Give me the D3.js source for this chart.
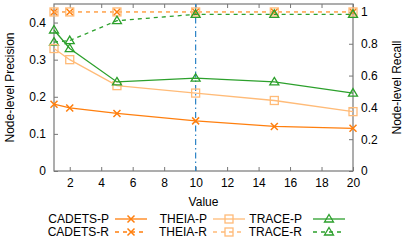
<!DOCTYPE html>
<html>
<head>
<meta charset="utf-8">
<script src="https://cdn.jsdelivr.net/npm/d3@7"></script>
<style>
  body { margin: 0; background: #fff; }
  text { font-family: "Liberation Sans", Arial, sans-serif; font-size: 12px; fill: #000; }
</style>
</head>
<body>
<div id="chart"></div>
<script>
// data
const xValues = [1, 2, 5, 10, 15, 20];
const cadetsP = [0.18, 0.17, 0.155, 0.135, 0.12, 0.115];
const theiaP = [0.33, 0.30, 0.23, 0.21, 0.19, 0.16];
const traceP = [0.38, 0.33, 0.24, 0.25, 0.24, 0.21];
const cadetsR = [1, 1, 1, 1, 1, 1];
const theiaR = [1, 1, 1, 1, 1, 1];
const traceR = [0.81, 0.82, 0.945, 0.985, 0.985, 0.985];
const xTicks = [2, 4, 6, 8, 10, 12, 14, 16, 18, 20];
const pTicks = [0, 0.1, 0.2, 0.3, 0.4];
const rTicks = [0, 0.2, 0.4, 0.6, 0.8, 1];
const markLine = 10;

const W = 407, H = 240;
const margin = { top: 4, right: 54, bottom: 69, left: 54 };
const gw = W - margin.left - margin.right;
const gh = H - margin.top - margin.bottom;

const svg = d3.select('#chart').append('svg')
  .attr('width', W).attr('height', H);
const g = svg.append('g')
  .attr('transform', `translate(${margin.left}, ${margin.top})`);

const x = d3.scaleLinear().domain([1, 20]).range([0, gw]);
const yP = d3.scaleLinear().domain([0, 0.45]).range([gh, 0]);
const yR = d3.scaleLinear().domain([0, 1.05]).range([gh, 0]);

const axisColor = '#777';

// axes with inward ticks
const styleAxis = sel => {
  sel.select('.domain').remove();
  sel.selectAll('.tick line').attr('stroke', axisColor);
};
g.append('g').attr('transform', `translate(0, ${gh})`)
  .call(d3.axisTop(x).tickValues(xTicks).tickSize(4).tickFormat(''))
  .call(styleAxis);
g.append('g')
  .call(d3.axisBottom(x).tickValues(xTicks).tickSize(4).tickFormat(''))
  .call(styleAxis);
g.append('g').attr('transform', `translate(0, ${gh})`)
  .call(d3.axisBottom(x).tickValues(xTicks).tickSize(0).tickPadding(7))
  .call(sel => { sel.select('.domain').remove(); });
g.append('g')
  .call(d3.axisRight(yP).tickValues(pTicks).tickSize(4).tickFormat(''))
  .call(styleAxis);
g.append('g')
  .call(d3.axisLeft(yP).tickValues(pTicks).tickSize(0).tickPadding(8).tickFormat(d3.format('')))
  .call(sel => { sel.select('.domain').remove(); });
g.append('g').attr('transform', `translate(${gw}, 0)`)
  .call(d3.axisLeft(yR).tickValues(rTicks).tickSize(4).tickFormat(''))
  .call(styleAxis);
g.append('g').attr('transform', `translate(${gw}, 0)`)
  .call(d3.axisRight(yR).tickValues(rTicks).tickSize(0).tickPadding(8).tickFormat(d3.format('')))
  .call(sel => { sel.select('.domain').remove(); });
g.selectAll('.tick text').style('font-size', '12px').style('font-family', '"Liberation Sans", Arial, sans-serif');

// border
g.append('rect')
  .attr('width', gw).attr('height', gh)
  .attr('fill', 'none').attr('stroke', axisColor).attr('stroke-width', 1.2);

// vertical reference line
g.append('line')
  .attr('x1', x(markLine)).attr('x2', x(markLine))
  .attr('y1', 0).attr('y2', gh)
  .attr('stroke', '#2b83c6').attr('stroke-width', 1.2)
  .attr('stroke-dasharray', '6,3,1.5,3');

// axis titles
svg.append('text').attr('x', margin.left + gw / 2).attr('y', 206)
  .attr('text-anchor', 'middle').text('Value');
svg.append('text').attr('transform', `translate(14, ${margin.top + gh / 2}) rotate(-90)`)
  .attr('text-anchor', 'middle').text('Node-level Precision');
svg.append('text').attr('transform', `translate(401, ${margin.top + gh / 2}) rotate(-90)`)
  .attr('text-anchor', 'middle').text('Node-level Recall');

const series = [
  { name: 'CADETS-R', vals: cadetsR, y: yR, color: '#ff7f0e', dash: '4,4', mark: 'x' },
  { name: 'THEIA-R', vals: theiaR, y: yR, color: '#ffbb78', dash: '4,4', mark: 'sq' },
  { name: 'TRACE-R', vals: traceR, y: yR, color: '#2ca02c', dash: '4,4', mark: 'tri' },
  { name: 'CADETS-P', vals: cadetsP, y: yP, color: '#ff7f0e', dash: null, mark: 'x' },
  { name: 'THEIA-P', vals: theiaP, y: yP, color: '#ffbb78', dash: null, mark: 'sq' },
  { name: 'TRACE-P', vals: traceP, y: yP, color: '#2ca02c', dash: null, mark: 'tri' }
];

const drawMark = (sel, type, color, cx, cy) => {
  if (type === 'x') {
    sel.append('path')
      .attr('d', `M${cx - 3.5},${cy - 3.5}L${cx + 3.5},${cy + 3.5}M${cx - 3.5},${cy + 3.5}L${cx + 3.5},${cy - 3.5}`)
      .attr('stroke', color).attr('stroke-width', 1.5).attr('fill', 'none');
  } else if (type === 'sq') {
    sel.append('rect')
      .attr('x', cx - 4).attr('y', cy - 4).attr('width', 8).attr('height', 8)
      .attr('stroke', color).attr('stroke-width', 1.3).attr('fill', 'none');
  } else {
    sel.append('path')
      .attr('d', `M${cx},${cy - 4.5}L${cx + 4.5},${cy + 3}L${cx - 4.5},${cy + 3}Z`)
      .attr('stroke', color).attr('stroke-width', 1.3).attr('fill', 'none');
  }
};

series.forEach(s => {
  const line = d3.line().x((d, i) => x(xValues[i])).y(d => s.y(d));
  g.append('path').datum(s.vals)
    .attr('d', line)
    .attr('fill', 'none').attr('stroke', s.color).attr('stroke-width', 1.3)
    .attr('stroke-dasharray', s.dash);
  s.vals.forEach((v, i) => drawMark(g, s.mark, s.color, x(xValues[i]), s.y(v)));
});

// legend
const legendCols = [
  { textX: 109, lineX: 115 },
  { textX: 207, lineX: 213 },
  { textX: 302, lineX: 313 }
];
const legendRows = [219, 232];
const legendOrder = [
  ['CADETS-P', 'THEIA-P', 'TRACE-P'],
  ['CADETS-R', 'THEIA-R', 'TRACE-R']
];
legendOrder.forEach((row, r) => {
  row.forEach((name, c) => {
    const s = series.find(d => d.name === name);
    const col = legendCols[c];
    const ly = legendRows[r];
    svg.append('text').attr('x', col.textX).attr('y', ly + 4.3)
      .attr('text-anchor', 'end').text(name);
    svg.append('line')
      .attr('x1', col.lineX).attr('x2', col.lineX + 32)
      .attr('y1', ly).attr('y2', ly)
      .attr('stroke', s.color).attr('stroke-width', 1.3)
      .attr('stroke-dasharray', s.dash);
    drawMark(svg, s.mark, s.color, col.lineX + 16, ly);
  });
});
</script>
</body>
</html>
